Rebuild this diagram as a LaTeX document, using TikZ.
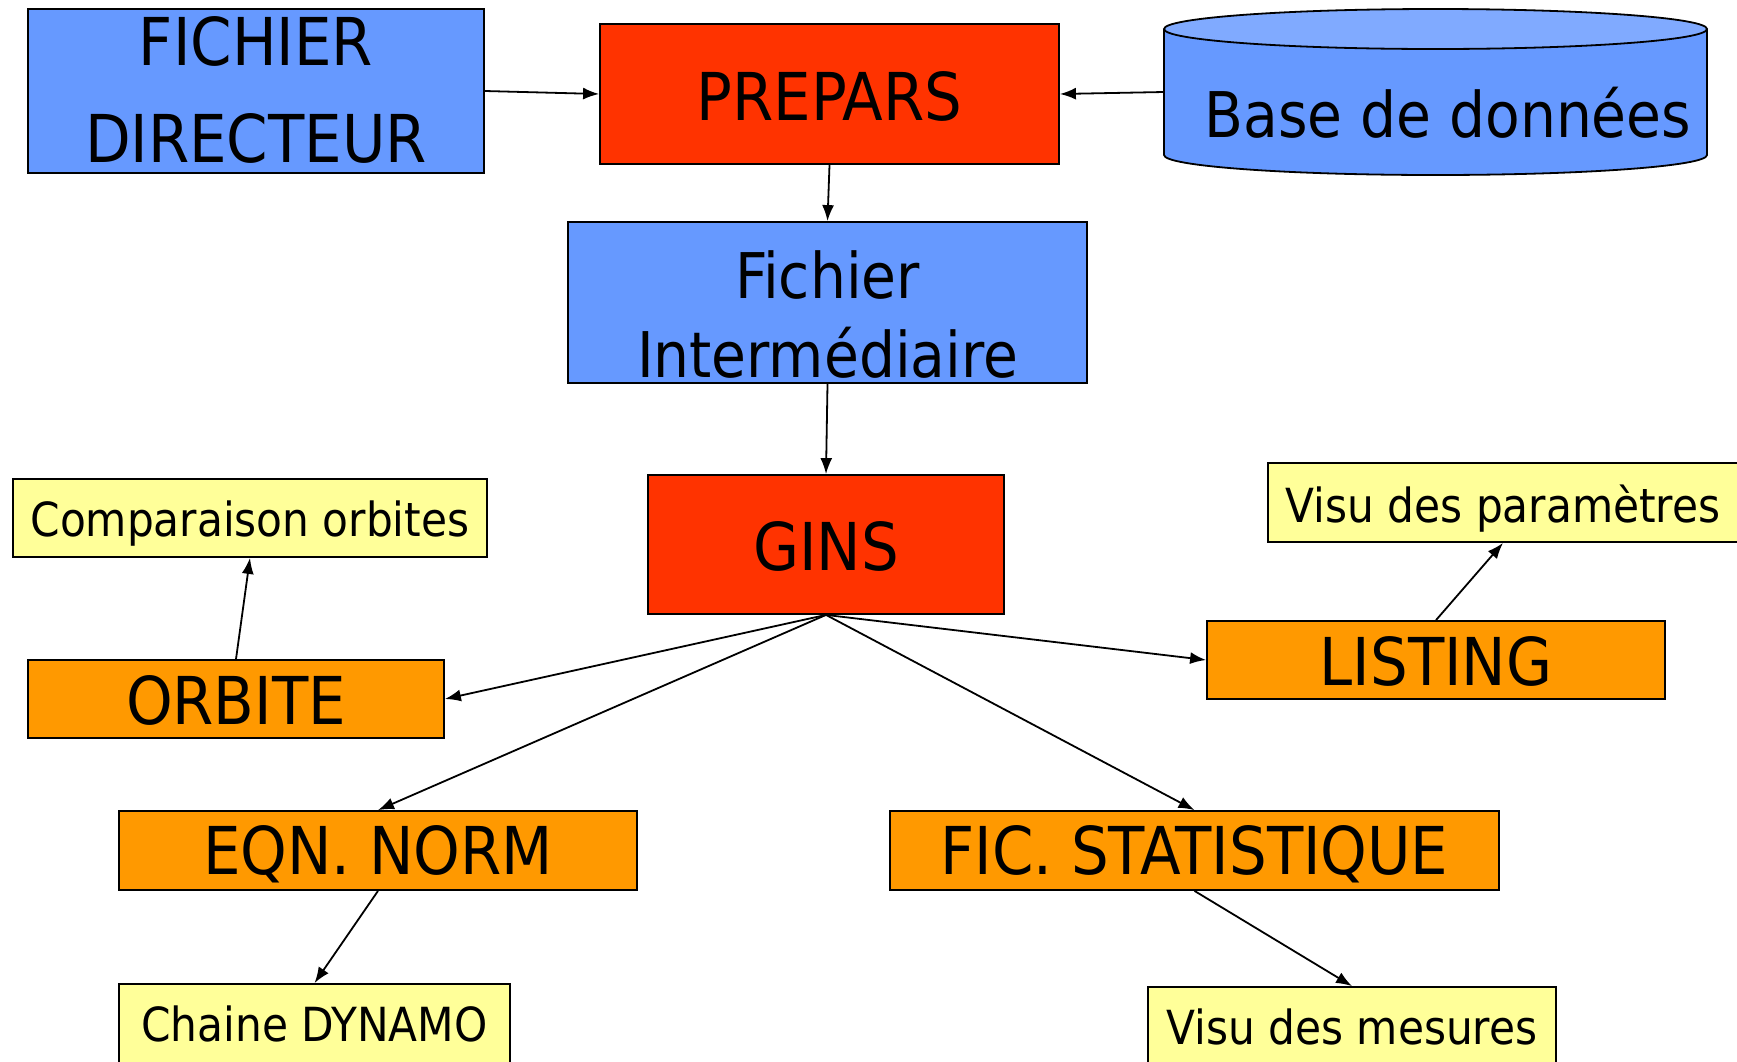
\documentclass[tikz,border=0pt]{standalone}
\usepackage{fontspec}
\setmainfont{DejaVu Sans Condensed}
\usetikzlibrary{arrows.meta}
\definecolor{cblue}{HTML}{6699FF}
\definecolor{ctop}{HTML}{80AAFF}
\definecolor{cred}{HTML}{FF3300}
\definecolor{corange}{HTML}{FF9900}
\definecolor{cyellow}{HTML}{FFFF99}
\newcommand{\lowertxt}[2]{\raisebox{-#1}[\dimexpr\height-20pt\relax][\dimexpr\depth-20pt\relax]{#2}}
\newcommand{\lowerone}[2]{\raisebox{-#1}[\height][\depth]{#2}}
\tikzset{
  box/.style={draw=black, line width=1.8pt, inner sep=0pt, align=center},
  bigtxt/.style={font=\fontsize{66}{100}\selectfont},
  midtxt/.style={font=\fontsize{63}{80}\selectfont},
  smalltxt/.style={font=\fontsize{47}{55}\selectfont},
  conn/.style={line width=1.8pt, -{Latex[length=16pt,width=12pt]}},
}
\begin{document}
\begin{tikzpicture}[x=1pt,y=-1pt]
\clip (0,0) rectangle (1737,1061);
\useasboundingbox (0,0) rectangle (1737,1061);
\fill[white] (0,0) rectangle (1737,1061);

% cylinder (database)
\filldraw[fill=cblue, line width=1.8pt] (1164,29) -- (1164,155) arc[start angle=180, end angle=0, x radius=271.5, y radius=20] -- (1707,29);
\filldraw[fill=ctop, line width=1.8pt] (1435.5,29) ellipse[x radius=271.5, y radius=20];
\node[minimum width=543pt, minimum height=126pt, inner sep=0pt] (base) at (1435.5,92) {};
\node[midtxt] (basetxt) at (1448,113) {Base de données};

\node[box, fill=cblue, minimum width=456pt, minimum height=164pt] (fd) at (256,91) {\lowertxt{3.5pt}{\fontsize{66}{97}\selectfont\begin{tabular}{@{}c@{}}FICHIER\\DIRECTEUR\end{tabular}}};
\node[box, bigtxt, fill=cred, minimum width=459pt, minimum height=140pt] (prepars) at (829.5,94) {\lowerone{2pt}{PREPARS}};
\node[box, fill=cblue, minimum width=519pt, minimum height=161pt] (fi) at (827.5,302.5) {\lowertxt{20pt}{\fontsize{63}{79}\selectfont\begin{tabular}{@{}c@{}}Fichier\\Intermédiaire\end{tabular}}};
\node[box, bigtxt, fill=cred, minimum width=356pt, minimum height=139pt] (gins) at (826,544.5) {\lowerone{2pt}{GINS}};
\node[box, smalltxt, fill=cyellow, minimum width=474pt, minimum height=78pt] (comp) at (250,518) {\lowerone{6pt}{Comparaison orbites}};
\node[box, bigtxt, fill=corange, minimum width=416pt, minimum height=78pt] (orbite) at (236,699) {\lowerone{1pt}{ORBITE}};
\node[box, smalltxt, fill=cyellow, minimum width=470pt, minimum height=79pt] (vp) at (1503,502.5) {\lowerone{6pt}{Visu des paramètres}};
\node[box, bigtxt, fill=corange, minimum width=458pt, minimum height=78pt] (listing) at (1436,660) {\lowerone{1pt}{LISTING}};
\node[box, bigtxt, fill=corange, minimum width=518pt, minimum height=79pt] (eqn) at (378,850.5) {\lowerone{4pt}{EQN. NORM}};
\node[box, bigtxt, fill=corange, minimum width=609pt, minimum height=79pt] (fic) at (1194.5,850.5) {\lowerone{4pt}{FIC. STATISTIQUE}};
\node[box, smalltxt, fill=cyellow, minimum width=391pt, minimum height=79pt] (chaine) at (314.5,1023.5) {Chaine DYNAMO};
\node[box, smalltxt, fill=cyellow, minimum width=408pt, minimum height=79pt] (vm) at (1352,1026.5) {Visu des mesures};

\draw[conn] (fd.east) -- (prepars.west);
\draw[conn] (base.west) -- (prepars.east);
\draw[conn] (prepars.south) -- (fi.north);
\draw[conn] (fi.south) -- (gins.north);
\draw[conn] (gins.south) -- (orbite.east);
\draw[conn] (gins.south) -- (listing.west);
\draw[conn] (gins.south) -- (eqn.north);
\draw[conn] (gins.south) -- (fic.north);
\draw[conn] (orbite.north) -- (comp.south);
\draw[conn] (listing.north) -- (vp.south);
\draw[conn] (eqn.south) -- (chaine.north);
\draw[conn] (fic.south) -- (vm.north);
\end{tikzpicture}
\end{document}
